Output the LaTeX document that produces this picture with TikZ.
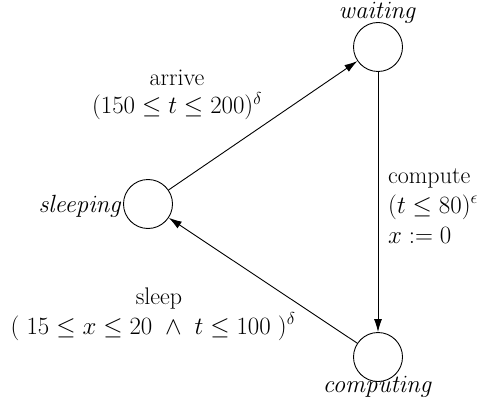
\documentclass[tikz,border=0pt]{standalone}
\usetikzlibrary{arrows.meta}
\begin{document}
\begin{tikzpicture}[x=1pt,y=-1pt,
  state/.style={draw,circle,line width=0.9pt,minimum size=49pt,inner sep=0pt},
  lbl/.style={inner sep=0pt,anchor=base,font=\fontsize{24}{28}\selectfont},
  multi/.style={inner sep=0pt,anchor=base,font=\fontsize{24}{#1}\selectfont},
  arr/.style={line width=0.9pt,-{Latex[length=13pt,width=8pt]}}]
\useasboundingbox (0,0) rectangle (481,406);
\node[state] (w) at (378,47) {};
\node[state] (s) at (148,204) {};
\node[state] (c) at (378,357) {};
\node[lbl] (wl) at (378,19) {$\mathit{waiting}$};
\node[lbl] (cl) at (378,392) {$\mathit{computing}$};
\node[lbl,anchor=base east] (sl) at (123,212) {$\mathit{sleeping}$};
\draw[arr] (s) -- (w);
\draw[arr] (w) -- (c);
\draw[arr] (c) -- (s);
\node[multi=28pt,align=center] (a) at (177,114) {arrive\\$(150 \le t \le 200)^{\delta}$};
\node[multi=30pt,align=left,anchor=base west] (cp) at (388,243) {compute\\$(t \le 80)^{\epsilon}$\\$x := 0$};
\node[multi=30pt,align=center] (sp) at (153,334) {\hspace*{12pt}sleep\\$(\ 15 \le x \le 20 \ \wedge\ t \le 100\ )^{\delta}$};
\end{tikzpicture}
\end{document}
